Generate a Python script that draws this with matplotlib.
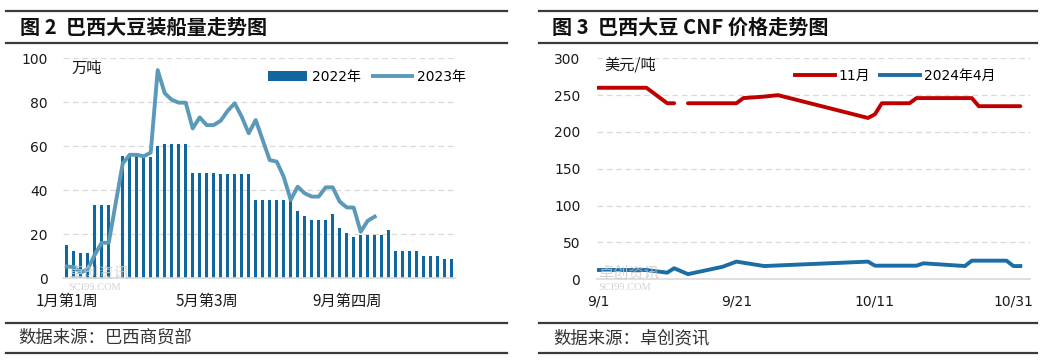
import matplotlib
matplotlib.use("Agg")
import matplotlib.pyplot as plt
import numpy as np
import pandas as pd
from matplotlib.lines import Line2D
from matplotlib.patches import Patch

W, H = 1062, 362

# ---- 图2 巴西大豆装船量 (万吨), weekly ----
week_ticks = [0, 20, 40]
week_tick_labels = ["1月第1周", "5月第3周", "9月第四周"]
ship_2022 = [15, 12.3, 11.5, 11.5, 33, 33, 33, np.nan,
             55.5, 56, 55.5, 55.5, 55,
             60, 61, 61, 61, 61,
             47.7, 47.7, 47.7, 47.7, 47.5, 47.5, 47.5, 47.5, 47.5,
             35.5, 35.5, 35.5, 35.5, 35.5, 35.5,
             30.6, 28, 26.4, 26.4, 26.4, 29, 22.9, 20.6, 18.5,
             19.5, 19.5, 19.5, 19.5, 22,
             12.3, 12.3, 12.3, 12.3, 10, 10, 10, 8.6, 8.6]
ship_2023 = [5.2, 5, 2.5, 4, 10.5, 16, 16, 34, 52, 56,
             56, 55.3, 57, 94.5, 84, 81, 79.7, 79.7, 68, 73,
             69.5, 69.5, 71.5, 76, 79.4, 73.3, 65.8, 71.8, 62.7, 53.6,
             52.9, 46, 35.5, 41.5, 38.5, 37, 37, 41.2, 41.2, 34.7,
             32.1, 32, 21, 26, 27.9]

# ---- 图3 巴西大豆CNF价格 (美元/吨) ----
nov_dates = ["2023-09-01", "2023-09-08", "2023-09-11", "2023-09-12", "2023-09-13",
             "2023-09-14", "2023-09-21", "2023-09-22", "2023-09-25", "2023-09-27",
             "2023-10-10", "2023-10-11", "2023-10-12", "2023-10-16", "2023-10-17",
             "2023-10-25", "2023-10-26", "2023-11-01"]
nov_vals = [260, 260, 239, 239, np.nan,
            239, 239, 246, 248, 250,
            219, 224, 239, 239, 246,
            246, 235, 235]
apr_dates = ["2023-09-01", "2023-09-08", "2023-09-11", "2023-09-12", "2023-09-14",
             "2023-09-19", "2023-09-21", "2023-09-25", "2023-10-10", "2023-10-11",
             "2023-10-17", "2023-10-18", "2023-10-24", "2023-10-25", "2023-10-30",
             "2023-10-31", "2023-11-01"]
apr_vals = [12.6, 12.6, 9, 15, 7,
            17, 24, 18, 24, 18.5,
            18.5, 21.7, 18, 25.3, 25.3,
            18, 18]
cnf_ticks = ["2023-09-01", "2023-09-21", "2023-10-11", "2023-10-31"]
cnf_tick_labels = ["9/1", "9/21", "10/11", "10/31"]

BAR_COLOR = "#0F679E"
LINE23_COLOR = "#5B99B8"
RED = "#C00000"
BLUE = "#1C6DA6"
GRID = "#D9D9D9"
RULE = "#3A3A3A"
CJK = ["Noto Sans CJK SC", "DejaVu Sans"]

plt.rcParams["font.family"] = ["DejaVu Sans", "Noto Sans CJK SC"]
plt.rcParams["font.size"] = 10


def px_axes(fig, x0, y0, x1, y1):
    return fig.add_axes([x0 / W, 1 - y1 / H, (x1 - x0) / W, (y1 - y0) / H])


def style(ax, ypad):
    for s in ("left", "right", "top"):
        ax.spines[s].set_visible(False)
    ax.spines["bottom"].set_color(GRID)
    ax.spines["bottom"].set_linewidth(1.2)
    ax.yaxis.grid(True, color=GRID, linestyle=(0, (4.5, 3)), linewidth=0.9)
    ax.set_axisbelow(True)
    ax.tick_params(axis="both", length=0, colors="#1a1a1a")
    ax.tick_params(axis="y", pad=ypad, labelsize=10)
    ax.tick_params(axis="x", pad=11, labelsize=10)


fig = plt.figure(figsize=(W / 100, H / 100), dpi=100)

# ---------------- left: 图2 ----------------
ax1 = px_axes(fig, 63.2, 58, 455.2, 278)
style(ax1, 11)
x22 = np.arange(len(ship_2022))
ax1.bar(x22, ship_2022, width=0.45, color=BAR_COLOR, zorder=2)
ax1.plot(np.arange(len(ship_2023)), ship_2023, color=LINE23_COLOR, lw=2.8,
         solid_joinstyle="round", zorder=3)
ax1.set_xlim(-0.5, len(ship_2022) - 0.5)
ax1.set_ylim(0, 100)
ax1.set_yticks(range(0, 101, 20))
ax1.set_xticks(week_ticks)
ax1.set_xticklabels(week_tick_labels, fontsize=11, family=CJK)
fig.text(71 / W, 1 - 68 / H, "万吨", fontsize=11, family=CJK, va="center", color="#1a1a1a")
fig.legend(handles=[Patch(facecolor=BAR_COLOR, label="2022年"),
                    Line2D([], [], color=LINE23_COLOR, lw=2.8, label="2023年")],
           loc="center left", bbox_to_anchor=(268 / W, 1 - 77 / H), ncol=2,
           frameon=False, borderpad=0, borderaxespad=0, handlelength=2.8,
           handletextpad=0.35, columnspacing=0.9, fontsize=10)

# ---------------- right: 图3 ----------------
ax2 = px_axes(fig, 597, 58.3, 1030, 279.3)
style(ax2, 12)
ax2.plot(pd.to_datetime(nov_dates), nov_vals, color=RED, lw=2.8,
         solid_joinstyle="round", solid_capstyle="round", zorder=3)
ax2.plot(pd.to_datetime(apr_dates), apr_vals, color=BLUE, lw=2.8,
         solid_joinstyle="round", zorder=3)
t0 = pd.Timestamp("2023-09-01")
ax2.set_xlim(t0 - pd.Timedelta(days=0.14), t0 + pd.Timedelta(days=62.4))
ax2.set_ylim(0, 300)
ax2.set_yticks(range(0, 301, 50))
ax2.set_xticks(pd.to_datetime(cnf_ticks))
ax2.set_xticklabels(cnf_tick_labels, fontsize=10)
fig.text(604 / W, 1 - 65 / H, "美元/吨", fontsize=11, family=CJK, va="center", color="#1a1a1a")
fig.legend(handles=[Line2D([], [], color=RED, lw=2.8, label="11月"),
                    Line2D([], [], color=BLUE, lw=2.8, label="2024年4月")],
           loc="center left", bbox_to_anchor=(795 / W, 1 - 76 / H), ncol=2,
           frameon=False, borderpad=0, borderaxespad=0, handlelength=2.9,
           handletextpad=0.25, columnspacing=0.7, fontsize=10)

# ---------------- watermarks ----------------
for wx in (68, 598):
    fig.text(wx / W, 1 - 273 / H, "卓创资讯", fontsize=11, family=CJK, color="#c8c8c8",
             alpha=0.8, va="center", zorder=0)
    fig.text(wx / W, 1 - 287 / H, "SCI99.COM", fontsize=7.5, family=["Liberation Serif"],
             color="#c8c8c8", alpha=0.8, va="center", zorder=0)

# ---------------- titles, rules, sources ----------------
for (xa, xb) in ((6, 507), (539, 1037)):
    for yy in (10.7, 42.7, 323, 353):
        fig.add_artist(Line2D([xa / W, xb / W], [1 - yy / H, 1 - yy / H],
                              color=RULE, lw=1.6, transform=fig.transFigure))

fig.text(20 / W, 1 - 27.5 / H, "图 2  巴西大豆装船量走势图", fontsize=14.5,
         fontweight="bold", family=CJK, va="center", color="#111111")
fig.text(552 / W, 1 - 27.5 / H, "图 3  巴西大豆 CNF 价格走势图", fontsize=14.5,
         fontweight="bold", family=CJK, va="center", color="#111111")
fig.text(18 / W, 1 - 338 / H, "数据来源：巴西商贸部", fontsize=12.5, family=CJK,
         va="center", color="#333333")
fig.text(553 / W, 1 - 338 / H, "数据来源：卓创资讯", fontsize=12.5, family=CJK,
         va="center", color="#333333")

fig.savefig("out.png", dpi=100)
